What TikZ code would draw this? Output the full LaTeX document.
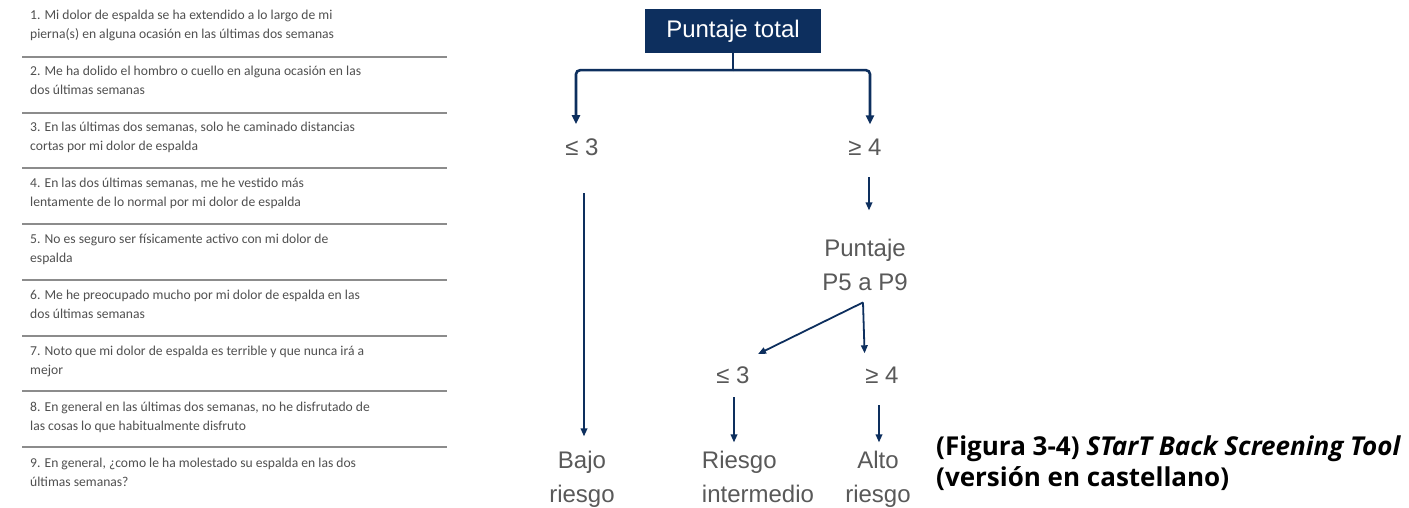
\documentclass[tikz,border=0pt]{standalone}
\usepackage{fontspec}
\setmainfont{Liberation Sans}
\newfontfamily\itemfont{Carlito}
\newfontfamily\capfont{Open Sans}
\usetikzlibrary{arrows.meta}
\definecolor{navy}{HTML}{0D2F5E}
\definecolor{labgray}{HTML}{595959}
\definecolor{itemgray}{HTML}{505050}
\definecolor{rulegray}{HTML}{8C8C8C}
\begin{document}
\begin{tikzpicture}[x=1pt,y=-1pt,
  itemtxt/.style={anchor=base west, inner sep=0pt, align=left, text=itemgray, font=\itemfont\fontsize{13.6}{19}\selectfont},
  seprule/.style={draw=rulegray, line width=2pt},
  lbl/.style={inner sep=0pt, text=labgray, font=\fontsize{24}{34}\selectfont},
  topbox/.style={fill=navy, text=white, minimum width=176pt, minimum height=44pt, inner sep=0pt, font=\fontsize{24}{28}\selectfont},
  stem/.style={draw=navy, line width=2.6pt},
  conn/.style={draw=navy, line width=2.6pt, -{Triangle[length=9pt,width=8pt]}},
  arr/.style={draw=navy, line width=1.8pt, -{Triangle[length=8pt,width=6.5pt]}},
  captxt/.style={anchor=base west, inner sep=0pt, align=left, text=black, font=\capfont\bfseries\fontsize{26}{31}\selectfont},
]
\useasboundingbox[fill=white] (0,0) rectangle (1409,508);

% questionnaire items (anchor = baseline of the last line)
\node[itemtxt] (q1) at (30,38.5) {1. Mi dolor de espalda se ha extendido a lo largo de mi\\pierna(s) en alguna ocasión en las últimas dos semanas};
\node[itemtxt] (q2) at (30,94.5) {2. Me ha dolido el hombro o cuello en alguna ocasión en las\\dos últimas semanas};
\node[itemtxt] (q3) at (30,150.5) {3. En las últimas dos semanas, solo he caminado distancias\\cortas por mi dolor de espalda};
\node[itemtxt] (q4) at (30,206.5) {4. En las dos últimas semanas, me he vestido más\\lentamente de lo normal por mi dolor de espalda};
\node[itemtxt] (q5) at (30,262.5) {5. No es seguro ser físicamente activo con mi dolor de\\espalda};
\node[itemtxt] (q6) at (30,318.5) {6. Me he preocupado mucho por mi dolor de espalda en las\\dos últimas semanas};
\node[itemtxt] (q7) at (30,374.5) {7. Noto que mi dolor de espalda es terrible y que nunca irá a\\mejor};
\node[itemtxt] (q8) at (30,430.5) {8. En general en las últimas dos semanas, no he disfrutado de\\las cosas lo que habitualmente disfruto};
\node[itemtxt] (q9) at (30,486.5) {9. En general, ¿como le ha molestado su espalda en las dos\\últimas semanas?};

\foreach \y in {57,113,168.5,224,280,335.5,391,447}
  \draw[seprule] (22,\y) -- (447,\y);

% flowchart
\node[topbox] (total) at (733,31) {Puntaje total};
\node[lbl, anchor=base] (le3a) at (582,156) {≤ 3};
\node[lbl, anchor=base] (ge4a) at (865,156) {≥ 4};
\node[lbl, anchor=base, align=center] (punt) at (865,290) {Puntaje\\P5 a P9};
\node[lbl, anchor=base] (le3b) at (733,383) {≤ 3};
\node[lbl, anchor=base] (ge4b) at (882,383) {≥ 4};
\node[lbl, anchor=base, align=center] (bajo) at (582,502) {Bajo\\riesgo};
\node[lbl, anchor=base, align=left] (inter) at (758,502) {Riesgo\\intermedio};
\node[lbl, anchor=base, align=center] (alto) at (878,502) {Alto\\riesgo};

\coordinate (jn) at ([yshift=-17pt]total.south);
\coordinate (apex) at ([xshift=-2pt,yshift=-12pt]punt.south);
\draw[stem] (total.south) -- (jn);
\draw[conn, rounded corners=4pt, shorten >=15pt] (jn) -| ([xshift=-6pt]le3a.north);
\draw[conn, rounded corners=4pt, shorten >=15pt] (jn) -| ([xshift=5pt]ge4a.north);
\draw[arr, shorten <=37pt, shorten >=14pt] ([xshift=2pt]le3a.south) -- ([xshift=2pt]bajo.north);
\draw[arr, shorten <=21pt, shorten >=28pt] ([xshift=4pt]ge4a.south) -- ([xshift=4pt]punt.north);
\draw[arr] (apex) -- ([xshift=25pt,yshift=12pt]le3b.north);
\draw[arr, shorten >=13pt] (apex) -- ([xshift=-17pt]ge4b.north);
\draw[arr, shorten <=14pt, shorten >=8pt] ([xshift=1pt]le3b.south) -- ([xshift=-24pt]inter.north);
\draw[arr, shorten <=22pt, shorten >=8pt] ([xshift=-3pt]ge4b.south) -- ([xshift=1pt]alto.north);

% caption
\node[captxt] (cap) at (936,486) {(Figura 3-4) \textit{STarT Back Screening Tool}\\(versión en castellano)};
\end{tikzpicture}
\end{document}
